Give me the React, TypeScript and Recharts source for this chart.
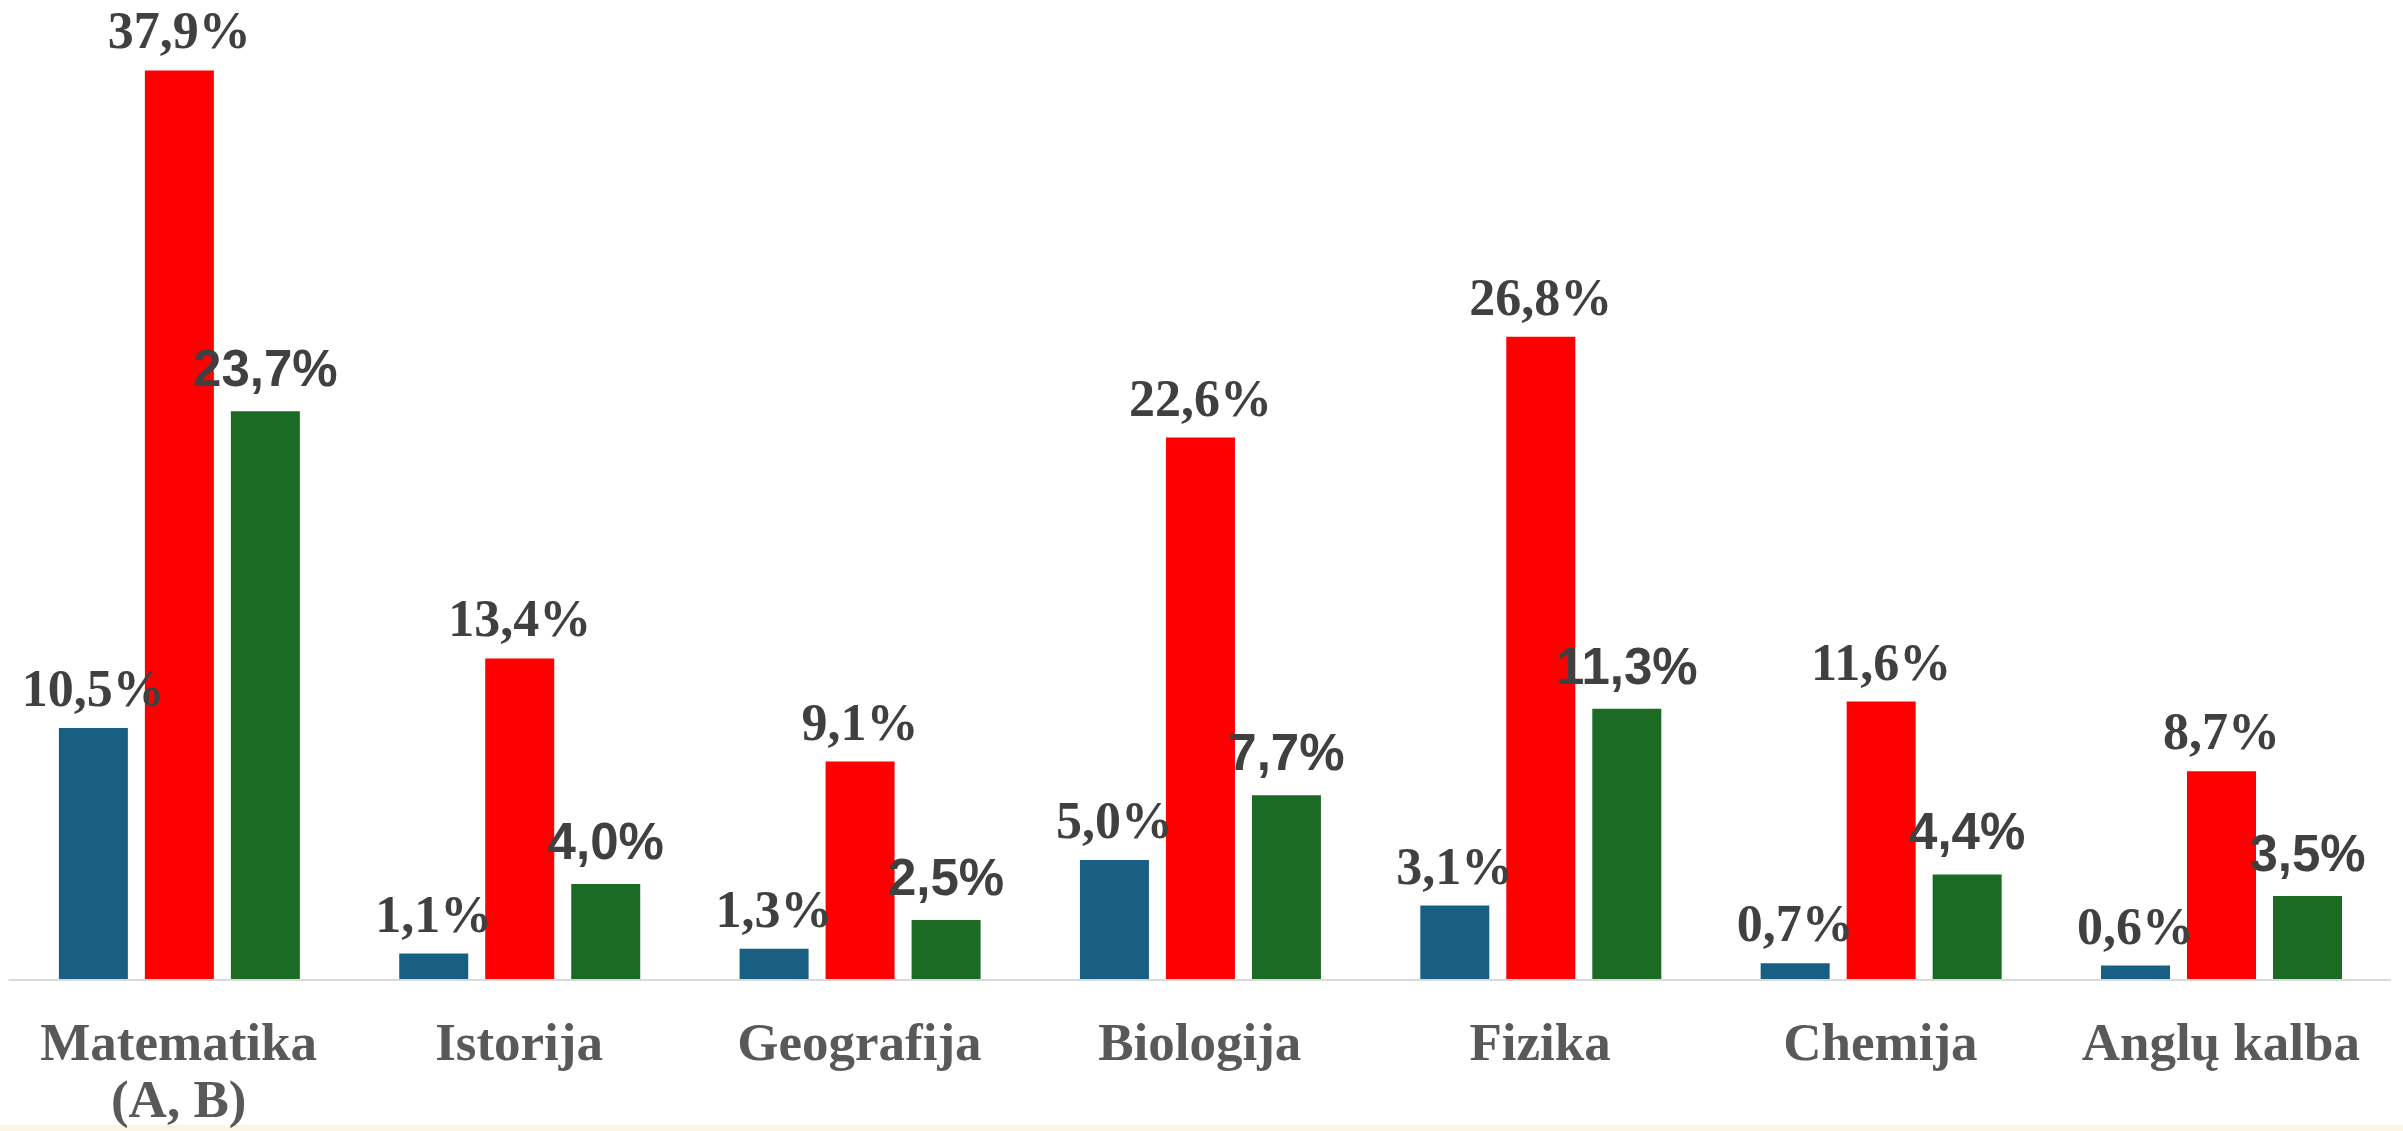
import * as React from "react";
import { BarChart, Bar, XAxis, YAxis, LabelList } from "recharts";

const categories = [
  "Matematika\n(A, B)",
  "Istorija",
  "Geografija",
  "Biologija",
  "Fizika",
  "Chemija",
  "Anglų kalba",
];

const blueValues = [10.5, 1.1, 1.3, 5.0, 3.1, 0.7, 0.6];
const redValues = [37.9, 13.4, 9.1, 22.6, 26.8, 11.6, 8.7];
const greenValues = [23.7, 4.0, 2.5, 7.7, 11.3, 4.4, 3.5];

const data = categories.map((name, i) => ({
  name,
  blue: blueValues[i],
  red: redValues[i],
  green: greenValues[i],
}));

const fmt = (v: number) => `${v.toFixed(1).replace(".", ",")}%`;

const SERIF = '"Liberation Serif", "Times New Roman", serif';
const SANS = '"Liberation Sans", Arial, sans-serif';

function makeLabel(family: string, size: number, gap: number) {
  return (props: any) => {
    const { x, y, width, value } = props;
    return (
      <text
        x={Number(x) + Number(width) / 2}
        y={Number(y) - gap}
        textAnchor="middle"
        fontFamily={family}
        fontWeight="bold"
        fontSize={size}
        fill="#404040"
      >
        {fmt(Number(value))}
      </text>
    );
  };
}

function CategoryTick(props: any) {
  const { x, y, payload } = props;
  const lines = String(payload.value).split("\n");
  return (
    <text
      x={x}
      y={y}
      textAnchor="middle"
      fontFamily={SERIF}
      fontWeight="bold"
      fontSize={53}
      fill="#595959"
    >
      {lines.map((line, i) => (
        <tspan key={i} x={x} dy={i === 0 ? 80 : 57}>
          {line}
        </tspan>
      ))}
    </text>
  );
}

export default function App() {
  return (
    <div
      style={{
        position: "absolute",
        top: 0,
        left: 0,
        width: 2403,
        height: 1131,
        background: "linear-gradient(to bottom, #ffffff 1125px, #fcf5e6 1125px)",
      }}
    >
      <BarChart
        width={2403}
        height={1131}
        data={data}
        margin={{ top: 20, right: 12, bottom: 0, left: 8.5 }}
        barGap={17}
        barCategoryGap="14.8%"
      >
        <XAxis
          dataKey="name"
          height={151}
          tickSize={0}
          tickMargin={0}
          tickLine={false}
          axisLine={{ stroke: "#d9d9d9", strokeWidth: 2 }}
          tick={<CategoryTick />}
          interval={0}
        />
        <YAxis hide domain={[0, 40]} />
        <Bar dataKey="blue" fill="#195f84" isAnimationActive={false}>
          <LabelList dataKey="blue" content={makeLabel(SERIF, 52, 22)} />
        </Bar>
        <Bar dataKey="red" fill="#ff0000" isAnimationActive={false}>
          <LabelList dataKey="red" content={makeLabel(SERIF, 52, 22)} />
        </Bar>
        <Bar dataKey="green" fill="#1b6b24" isAnimationActive={false}>
          <LabelList dataKey="green" content={makeLabel(SANS, 51, 25)} />
        </Bar>
      </BarChart>
    </div>
  );
}
